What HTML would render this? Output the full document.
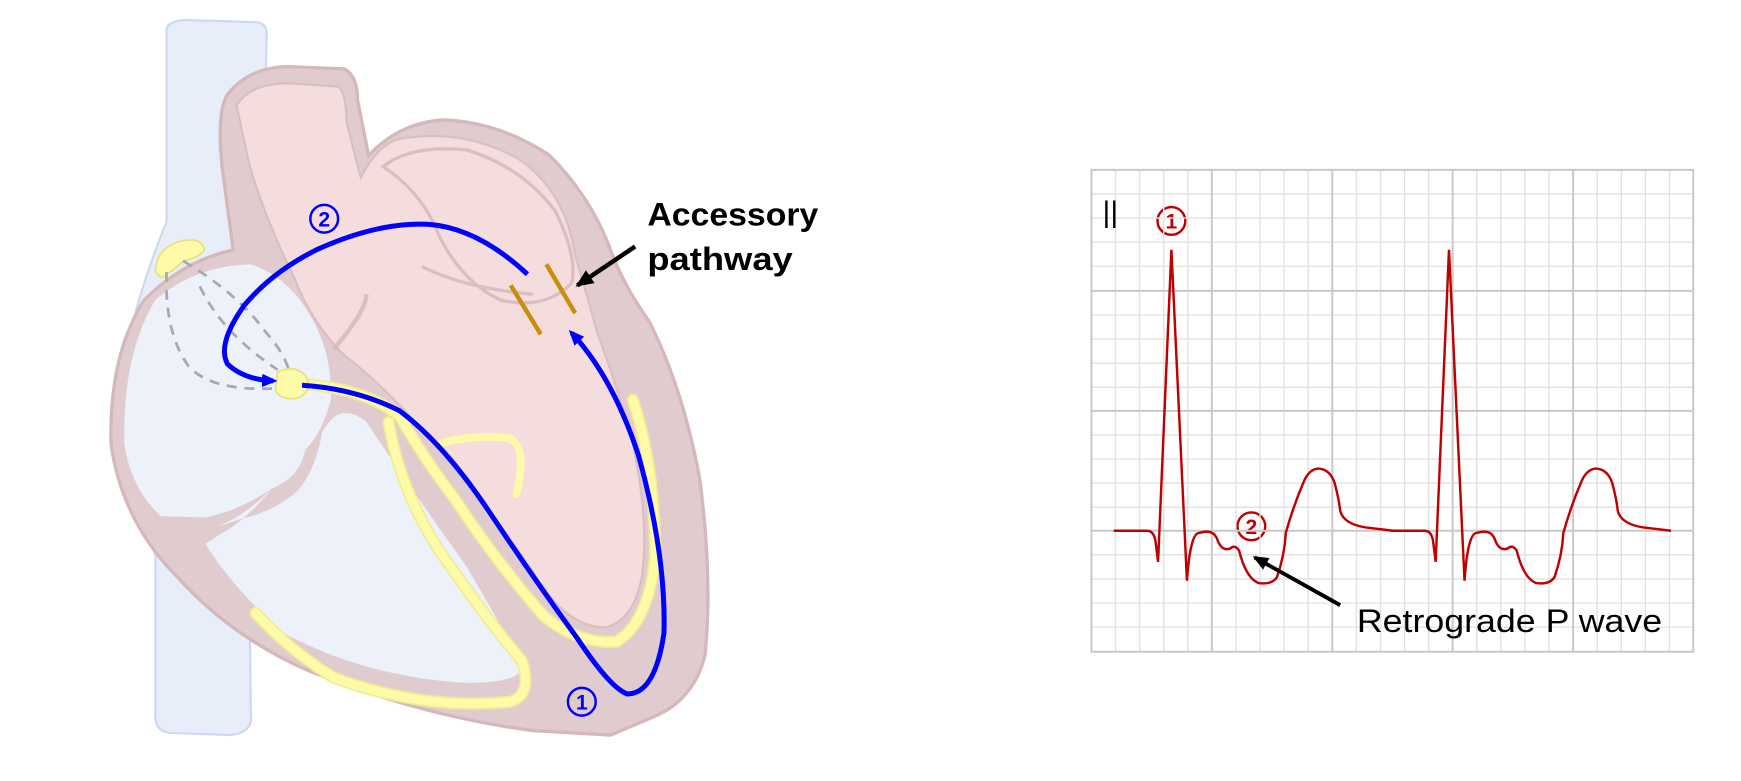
<!DOCTYPE html>
<html><head><meta charset="utf-8"><style>
html,body{margin:0;padding:0;background:#fff;width:1741px;height:781px;overflow:hidden}
svg{display:block}
text{font-family:"Liberation Sans","Noto Sans CJK KR",sans-serif}
</style></head><body>
<svg width="1741" height="781" viewBox="0 0 1568 703.4" preserveAspectRatio="none" xmlns="http://www.w3.org/2000/svg">
<defs>
<marker id="ab" markerWidth="14" markerHeight="12" refX="10" refY="6" orient="auto" markerUnits="userSpaceOnUse"><path d="M0,0 L14,6 L0,12z" fill="#00f"/></marker>
<marker id="ak" markerWidth="16" markerHeight="14" refX="14" refY="7" orient="auto" markerUnits="userSpaceOnUse"><path d="M0,0 L16,7 L0,14z" fill="#000"/></marker>
<marker id="ak2" markerWidth="14" markerHeight="12" refX="12" refY="6" orient="auto" markerUnits="userSpaceOnUse"><path d="M0,0 L14,6 L0,12z" fill="#000"/></marker>
</defs>
<path d="M150,30 Q148,20 165,18 L232,20 Q242,22 240,35 L238,170 Q230,250 215,300 L210,520 L225,560 L226,650 Q222,662 205,662 L152,660 Q138,658 140,640 L140,500 L130,470 L110,330 Q125,260 150,200 Z" fill="#e8eef9" stroke="#cdd9f0" stroke-width="2"/>
<path d="M210,225 L200,150 Q195,100 205,85 Q225,60 260,60 L310,62 Q322,68 322,90 L332,140 Q360,110 400,108 Q450,110 495,140 Q530,175 548,220 Q560,255 585,290 Q615,350 630,430 Q642,520 635,590 Q625,630 590,645 L550,662 L480,658 Q380,645 280,605 Q210,575 160,520 Q110,470 100,400 Q98,320 130,270 Q165,235 210,225 Z" fill="#e0ccce" stroke="#d4b8bb" stroke-width="3"/>
<path d="M213,95 Q225,75 260,75 L305,78 Q312,85 312,110 L325,160 Q340,130 360,125 Q420,115 470,145 Q510,175 518,230 Q530,270 538,300 Q555,345 570,400 Q585,470 578,520 Q570,560 545,565 Q515,565 490,530 Q450,470 400,410 Q350,350 310,320 Q280,290 265,250 Q240,200 225,150 Z" fill="#f5dcdd" stroke="#d9bfc1" stroke-width="2"/>
<path d="M345,150 Q370,130 420,135 Q470,150 500,190 Q520,230 515,255 Q490,280 450,270 Q410,250 390,200 Q375,170 345,150Z" fill="#f5dcdd" stroke="#d9bfc1" stroke-width="3"/>
<path d="M300,315 Q330,280 330,265" fill="none" stroke="#d9bfc1" stroke-width="4"/>
<path d="M380,240 Q420,260 480,265" fill="none" stroke="#d9bfc1" stroke-width="3"/>
<path d="M140,270 Q175,240 225,238 Q250,245 270,270 Q300,310 298,360 Q290,390 275,405 Q270,430 245,440 Q215,460 185,466 L145,465 Q118,440 112,400 Q110,320 140,270Z" fill="#edf1fa"/>
<path d="M185,478 Q215,470 245,440 Q220,470 200,480 L185,490 Q210,530 255,570 Q330,610 420,615 Q470,615 470,600 Q450,560 420,510 Q370,440 330,380 Q305,360 290,390 Q285,420 270,440 Q250,460 215,468Z" fill="#edf1fa"/>
<path d="M140,245 Q140,225 160,218 Q182,212 184,225 Q180,232 165,235 Q155,245 145,250Z" fill="#fdfba8" stroke="#e8e07a" stroke-width="1.5"/>
<path d="M150,245 Q148,300 170,330 Q190,352 245,350" fill="none" stroke="#aaa" stroke-width="2.5" stroke-dasharray="9,7"/>
<path d="M165,235 Q215,265 240,300 Q258,320 262,340" fill="none" stroke="#aaa" stroke-width="2.5" stroke-dasharray="9,7"/>
<path d="M180,258 Q200,300 250,333" fill="none" stroke="#aaa" stroke-width="2.5" stroke-dasharray="9,7"/>
<path d="M272,346 Q330,350 360,375 Q380,410 410,450 Q450,510 490,555 Q520,580 555,578 Q585,560 590,500 Q590,420 570,360" fill="none" stroke="#f1eb95" stroke-width="11" stroke-linecap="round"/>
<path d="M272,346 Q330,350 360,375 Q380,410 410,450 Q450,510 490,555 Q520,580 555,578 Q585,560 590,500 Q590,420 570,360" fill="none" stroke="#fdfba8" stroke-width="8" stroke-linecap="round"/>
<path d="M350,380 Q360,440 395,495 Q440,560 470,595 Q480,625 460,632 Q380,640 300,610 Q260,585 230,552" fill="none" stroke="#f1eb95" stroke-width="11" stroke-linecap="round"/>
<path d="M350,380 Q360,440 395,495 Q440,560 470,595 Q480,625 460,632 Q380,640 300,610 Q260,585 230,552" fill="none" stroke="#fdfba8" stroke-width="8" stroke-linecap="round"/>
<path d="M395,400 Q430,390 460,395 Q475,405 465,445" fill="none" stroke="#fdfba8" stroke-width="7" stroke-linecap="round"/>
<path d="M250,335 Q265,328 275,338 Q282,350 270,358 Q255,362 248,352Z" fill="#fdfba8" stroke="#e8e07a" stroke-width="1.5"/>
<path d="M272,347 Q320,350 360,370 Q400,400 440,460 Q480,520 520,575 Q550,620 565,625 Q590,625 598,570 Q600,500 575,410 Q552,340 515,300" fill="none" stroke="#00f" stroke-width="4.5" marker-end="url(#ab)"/>
<path d="M475,247 Q430,205 385,202 Q340,200 285,225 Q245,245 220,275 Q195,310 205,328 Q220,342 246,343" fill="none" stroke="#00f" stroke-width="4.5" marker-end="url(#ab)"/>
<line x1="460" y1="257" x2="487" y2="301" stroke="#c8900a" stroke-width="4"/>
<line x1="492" y1="238" x2="518" y2="282" stroke="#c8900a" stroke-width="4"/>
<line x1="572" y1="222" x2="520" y2="257" stroke="#000" stroke-width="4" marker-end="url(#ak)"/>
<text x="583" y="203" font-size="29" font-weight="bold" textLength="154" lengthAdjust="spacingAndGlyphs">Accessory</text>
<text x="583" y="243" font-size="29" font-weight="bold" textLength="131" lengthAdjust="spacingAndGlyphs">pathway</text>
<g fill="none" stroke-width="2.2">
<circle cx="292" cy="197" r="12.5" stroke="#00f"/>
<circle cx="524" cy="632" r="12.5" stroke="#00f"/>
<circle cx="1055" cy="199" r="12.5" stroke="#c00000"/>
<circle cx="1127" cy="474" r="12.5" stroke="#c00000"/>
</g>
<g font-weight="bold" font-size="19" text-anchor="middle">
<text x="292" y="204" fill="#00f">2</text>
<text x="524" y="639" fill="#00f">1</text>
<text x="1055" y="206" fill="#c00000">1</text>
<text x="1127" y="481" fill="#c00000">2</text>
</g>
<g stroke="#e0e0e0" stroke-width="1.2">
<path d="M1004.7,153V587M1026.4,153V587M1048.1,153V587M1069.8,153V587M1113.1,153V587M1134.8,153V587M1156.5,153V587M1178.2,153V587M1221.6,153V587M1243.3,153V587M1265,153V587M1286.7,153V587M1330,153V587M1351.7,153V587M1373.4,153V587M1395.1,153V587M1438.5,153V587M1460.2,153V587M1481.9,153V587M1503.6,153V587"/>
<path d="M983,174.7H1525M983,196.4H1525M983,218.1H1525M983,239.8H1525M983,283.7H1525M983,305.4H1525M983,327.1H1525M983,348.8H1525M983,391.7H1525M983,413.4H1525M983,435.1H1525M983,456.8H1525M983,499.7H1525M983,521.4H1525M983,543.1H1525M983,564.8H1525"/>
</g>
<g stroke="#c8c8c8" stroke-width="1.8" fill="none">
<rect x="983" y="153" width="542" height="434"/>
<path d="M1091.4,153V587M1199.9,153V587M1308.3,153V587M1416.8,153V587M983,262H1525M983,370H1525M983,478H1525"/>
</g>
<g id="beat">
<path d="M1003,478 L1033,478 Q1040,478 1041,490 L1043,506 L1055,225 L1069,523 Q1072,480 1080,480 Q1092,476 1096,485 Q1100,497 1108,494 Q1112,490 1116,496 Q1122,520 1133,525 Q1145,527 1150,520 Q1157,500 1158,480 Q1165,455 1175,432 Q1180,422 1188,422 Q1198,423 1202,435 Q1206,450 1207,460 Q1210,472 1230,475 L1255,478" fill="none" stroke="#c00000" stroke-width="2.2"/>
</g>
<use href="#beat" x="250"/>
<text x="993" y="200" font-size="27">||</text>
<line x1="1207" y1="545" x2="1130" y2="502" stroke="#000" stroke-width="3.5" marker-end="url(#ak2)"/>
<text x="1222" y="569" font-size="29" textLength="275" lengthAdjust="spacingAndGlyphs">Retrograde P wave</text>
</svg>
</body></html>
